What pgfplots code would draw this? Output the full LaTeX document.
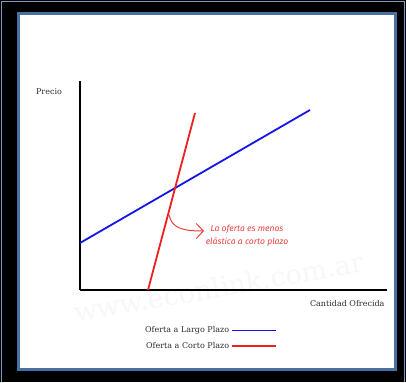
\documentclass[border=0pt]{standalone}
\usepackage{fontspec}
\setmainfont{DejaVu Serif}
\newfontfamily\notefont{Fira Sans}
\usepackage{pgfplots}
\pgfplotsset{compat=1.18}
\usetikzlibrary{arrows.meta}

\definecolor{frameblue}{RGB}{72,112,160}
\definecolor{lineblue}{RGB}{20,20,235}
\definecolor{linered}{RGB}{240,30,30}
\definecolor{notered}{RGB}{236,64,64}
\definecolor{txtgray}{RGB}{45,45,45}

\begin{document}
\begin{tikzpicture}[x=1pt,y=1pt]
\path[use as bounding box] (0,0) rectangle (406,382);
% frame
\fill[black] (0,0) rectangle (406,382);
\draw[frameblue!70, line width=1.5pt] (1.5,0) -- (1.5,380.5) -- (404.5,380.5) -- (404.5,0);
\draw[frameblue, line width=3pt, fill=white] (18.5,12.5) rectangle (395.5,368.5);
% watermark
\node[rotate=10, text=black!3, font=\fontsize{27}{27}\selectfont] at (219,95) {www.econlink.com.ar};

\begin{axis}[
    at={(80pt,92pt)}, anchor=origin,
    scale only axis,
    width=307pt, height=209pt,
    xmin=0, xmax=307, ymin=0, ymax=209,
    axis lines=left,
    axis line style={-, line width=2.6pt, black},
    xtick=\empty, ytick=\empty,
    clip=false,
    legend plot pos=right,
    legend cell align=right,
    legend image code/.code={\draw[#1, line width=1.5pt] (0pt,0pt) -- (44pt,0pt);},
    legend style={draw=none, fill=none, at={(0.423,-0.23)}, anchor=center,
        font=\fontsize{8}{10}\selectfont, text=txtgray, row sep=4pt},
]
\addplot[color=lineblue, line width=1.8pt] coordinates {(0,47) (230,180)};
\addplot[color=linered, line width=1.8pt] coordinates {(68,0) (115,177)};
\legend{Oferta a Largo Plazo, Oferta a Corto Plazo}

\draw[notered, line width=1pt, -{Straight Barb[length=7pt,width=15pt]}]
    (axis cs:89,75) .. controls (axis cs:92,62) and (axis cs:102,59) .. (axis cs:124,59);
\node[notered, font=\notefont\itshape\fontsize{8.6}{13}\selectfont, align=center]
    at (axis cs:167,54) {La oferta es menos\\el\'astica a corto plazo};
\end{axis}

\node[anchor=base, text=txtgray, font=\fontsize{8}{10}\selectfont] at (49,287) {Precio};
\node[anchor=base east, text=txtgray, font=\fontsize{8}{10}\selectfont] at (388,75) {Cantidad Ofrecida};
\end{tikzpicture}
\end{document}
